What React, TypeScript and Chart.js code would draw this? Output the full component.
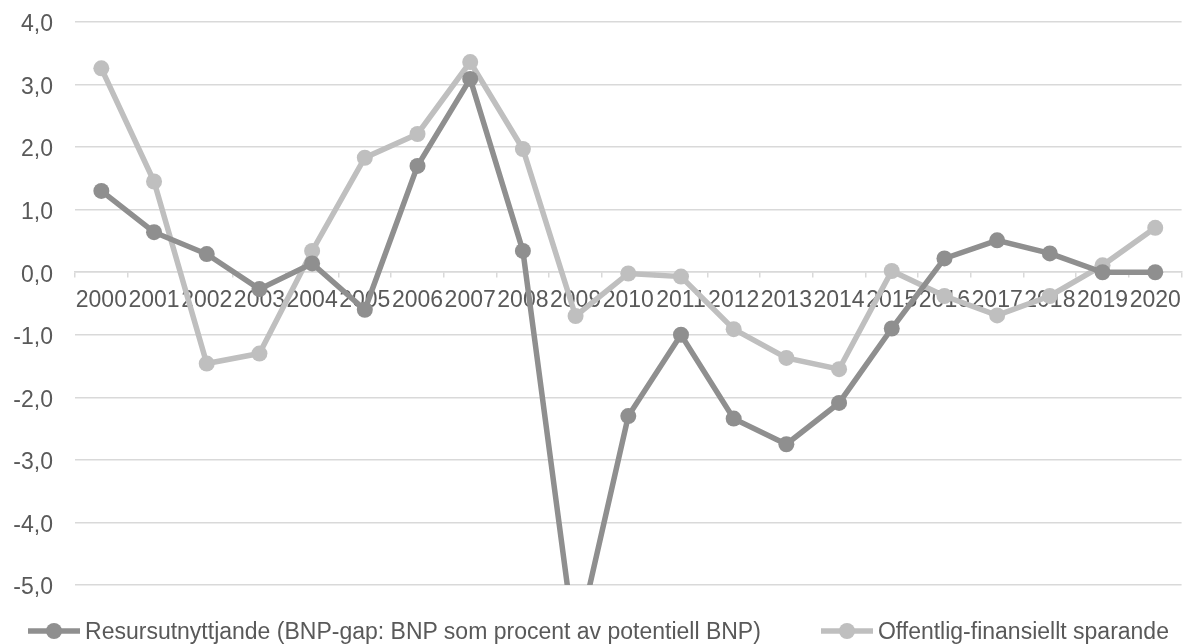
import React, { useEffect, useRef } from "react";
import { Chart, registerables } from "chart.js";

Chart.register(...registerables);

const years = [
  "2000", "2001", "2002", "2003", "2004", "2005", "2006", "2007", "2008", "2009", "2010",
  "2011", "2012", "2013", "2014", "2015", "2016", "2017", "2018", "2019", "2020",
];

const resursutnyttjande = [
  1.3, 0.64, 0.29, -0.27, 0.14, -0.6, 1.7, 3.09, 0.34, -6.0, -2.3,
  -1.0, -2.34, -2.75, -2.09, -0.9, 0.22, 0.51, 0.3, 0.0, 0.0,
];

const finansielltSparande = [
  3.26, 1.45, -1.46, -1.3, 0.34, 1.83, 2.21, 3.36, 1.97, -0.7, -0.02,
  -0.07, -0.91, -1.37, -1.55, 0.02, -0.38, -0.69, -0.38, 0.11, 0.71,
];

const seriesLabels = [
  "Resursutnyttjande (BNP-gap: BNP som procent av potentiell BNP)",
  "Offentlig-finansiellt sparande",
];

const seriesColors = ["#8f8f8f", "#bfbfbf"];

const yMin = -5;
const yMax = 4;
const yStep = 1;

const FONT = "'Liberation Sans', Arial, sans-serif";
const TEXT_COLOR = "#595959";
const GRID_COLOR = "#d9d9d9";

function LegendMarker({ color }: { color: string }) {
  return (
    <svg width={52} height={20} style={{ display: "block", marginRight: 5 }}>
      <line x1={0} y1={10} x2={52} y2={10} stroke={color} strokeWidth={5.5} />
      <circle cx={26} cy={10} r={8} fill={color} />
    </svg>
  );
}

export default function App() {
  const canvasRef = useRef<HTMLCanvasElement | null>(null);

  useEffect(() => {
    const canvas = canvasRef.current;
    if (!canvas) return;
    const datasets = [resursutnyttjande, finansielltSparande].map((values, i) => ({
      label: seriesLabels[i],
      data: values,
      borderColor: seriesColors[i],
      backgroundColor: seriesColors[i],
      borderWidth: 5.5,
      pointRadius: 8,
      pointHoverRadius: 8,
      pointBorderWidth: 0,
      pointBackgroundColor: seriesColors[i],
      tension: 0,
      clip: 0,
    }));
    const chart = new Chart(canvas, {
      type: "line",
      data: { labels: years, datasets },
      options: {
        animation: false,
        responsive: false,
        maintainAspectRatio: false,
        layout: { padding: { left: 0, right: 8, top: 22, bottom: 59 } },
        plugins: {
          legend: { display: false },
          tooltip: { enabled: false },
        },
        scales: {
          x: {
            type: "category",
            position: { y: 0 },
            offset: true,
            afterFit: (scale: any) => {
              scale.height = 0;
            },
            grid: {
              display: true,
              drawOnChartArea: false,
              drawTicks: true,
              tickLength: 5,
              offset: true,
              color: GRID_COLOR,
              lineWidth: 1.5,
            },
            border: { display: true, color: GRID_COLOR, width: 1.5 },
            ticks: {
              autoSkip: false,
              maxRotation: 0,
              minRotation: 0,
              padding: 10,
              color: TEXT_COLOR,
              font: { family: FONT, size: 23 },
            },
          },
          y: {
            min: yMin,
            max: yMax,
            afterFit: (scale: any) => {
              scale.width = 75;
            },
            grid: {
              color: GRID_COLOR,
              lineWidth: 1.5,
              drawTicks: true,
              tickLength: 22,
              tickColor: "rgba(0,0,0,0)",
            },
            border: { display: false },
            ticks: {
              stepSize: yStep,
              padding: 0,
              labelOffset: 3,
              color: TEXT_COLOR,
              font: { family: FONT, size: 23 },
              callback: (v: any) => Number(v).toFixed(1).replace(".", ","),
            },
          },
        },
      },
    });
    return () => chart.destroy();
  }, []);

  return (
    <div style={{ position: "absolute", left: 0, top: 0, width: 1191, height: 644, background: "#fff" }}>
      <canvas ref={canvasRef} width={1191} height={644} style={{ display: "block" }} />
      <div
        style={{
          position: "absolute",
          left: 3,
          top: 618,
          width: 1191,
          display: "flex",
          justifyContent: "center",
          alignItems: "center",
          gap: 60,
          fontFamily: FONT,
          fontSize: 23,
          lineHeight: "26px",
          color: TEXT_COLOR,
          whiteSpace: "nowrap",
        }}
      >
        {seriesLabels.map((label, i) => (
          <div key={label} style={{ display: "flex", alignItems: "center" }}>
            <LegendMarker color={seriesColors[i]} />
            <span>{label}</span>
          </div>
        ))}
      </div>
    </div>
  );
}
